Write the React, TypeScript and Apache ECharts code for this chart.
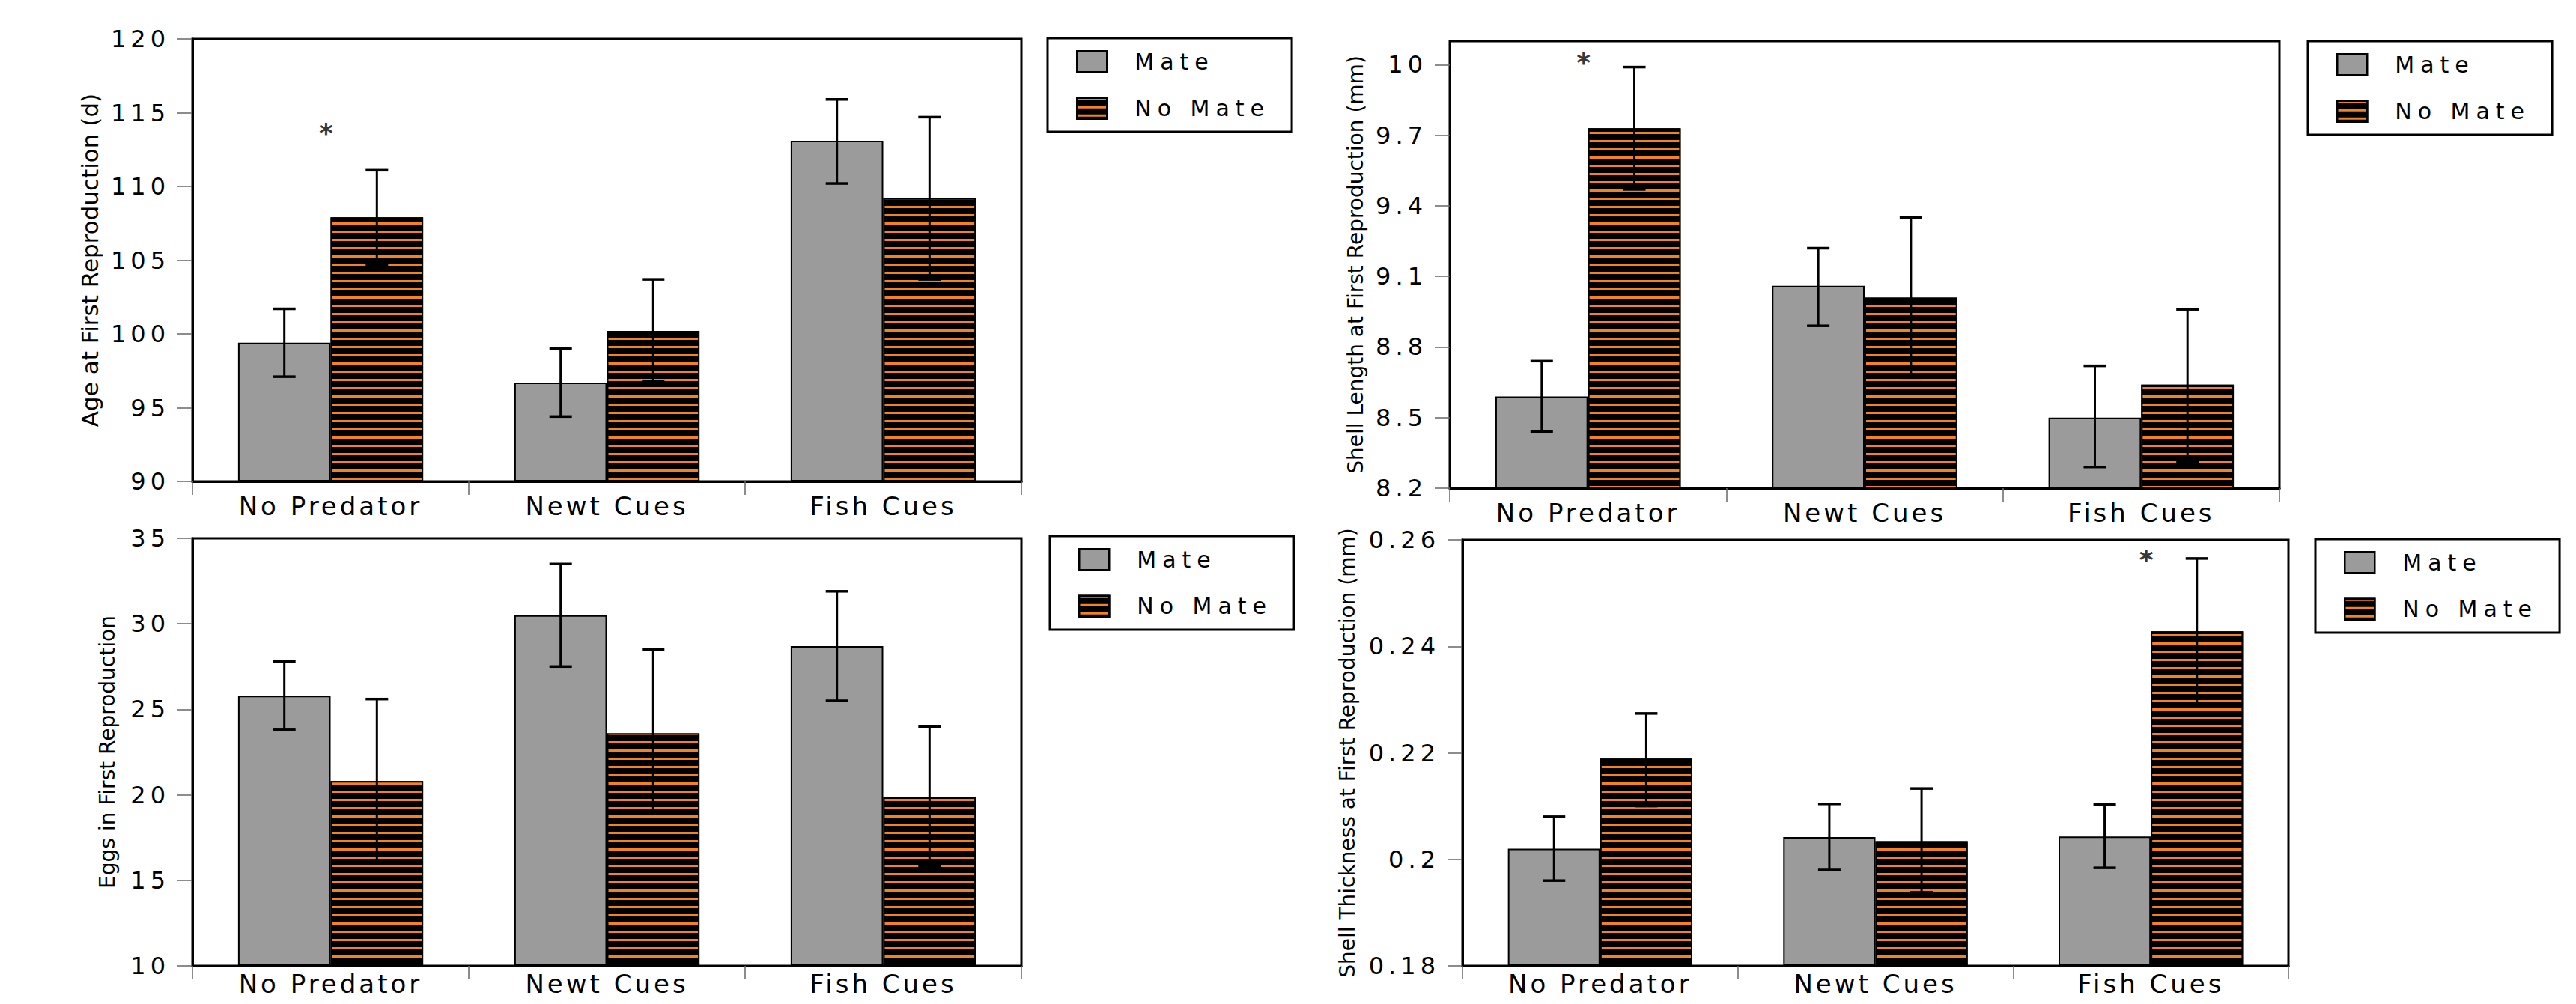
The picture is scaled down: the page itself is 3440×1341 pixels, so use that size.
import React, { useEffect, useRef } from 'react';
import * as echarts from 'echarts';

// ---------- data ----------
const categories = ['No Predator', 'Newt Cues', 'Fish Cues'];
const groupNames = ['Mate', 'No Mate'];

// Age at first reproduction (d)
const ageMate = [99.4, 96.7, 113.1];
const ageMateLow = [97.1, 94.4, 110.2];
const ageMateHigh = [101.7, 99.0, 115.9];
const ageNoMate = [107.9, 100.2, 109.2];
const ageNoMateLow = [104.7, 96.8, 103.7];
const ageNoMateHigh = [111.1, 103.7, 114.7];
const ageStar: (number | null)[] = [114.0, null, null];
const ageTicks = [90, 95, 100, 105, 110, 115, 120];
const ageRange = [90, 120];

// Shell length at first reproduction (mm)
const lenMate = [8.59, 9.06, 8.5];
const lenMateLow = [8.44, 8.89, 8.29];
const lenMateHigh = [8.74, 9.22, 8.72];
const lenNoMate = [9.73, 9.01, 8.64];
const lenNoMateLow = [9.47, 8.67, 8.31];
const lenNoMateHigh = [9.99, 9.35, 8.96];
const lenStar: (number | null)[] = [10.03, null, null];
const lenTicks = [8.2, 8.5, 8.8, 9.1, 9.4, 9.7, 10];
const lenRange = [8.2, 10.1];

// Eggs in first reproduction
const eggMate = [25.8, 30.5, 28.7];
const eggMateLow = [23.8, 27.5, 25.5];
const eggMateHigh = [27.8, 33.5, 31.9];
const eggNoMate = [20.8, 23.6, 19.9];
const eggNoMateLow = [16.1, 18.9, 15.8];
const eggNoMateHigh = [25.6, 28.5, 24.0];
const eggStar: (number | null)[] = [null, null, null];
const eggTicks = [10, 15, 20, 25, 30, 35];
const eggRange = [10, 35];

// Shell thickness at first reproduction (mm)
const thkMate = [0.202, 0.2042, 0.2043];
const thkMateLow = [0.196, 0.198, 0.1984];
const thkMateHigh = [0.208, 0.2104, 0.2103];
const thkNoMate = [0.2189, 0.2034, 0.2428];
const thkNoMateLow = [0.21, 0.1938, 0.2293];
const thkNoMateHigh = [0.2274, 0.2133, 0.2565];
const thkStar: (number | null)[] = [null, null, 0.2573];
const thkTicks = [0.18, 0.2, 0.22, 0.24, 0.26];
const thkRange = [0.18, 0.26];

// ---------- styles ----------
const FONT = "'DejaVu Sans', sans-serif";
const MATE_COLOR = '#9b9b9b';
const STRIPE_COLOR = '#f5821f';
const TICK_COLOR = '#666';
// extra letter spacing per font size (the reference text is widely spaced)
const SPACING: Record<number, number> = { 32: 6, 34: 4, 30: 8 };

type Panel = {
  grid: { left: number; top: number; width: number; height: number };
  legend: { left: number; top: number };
  name: string;
  nameGap: number;
  nameSize: number;
  labelMargin: number;
  ticks: number[];
  range: number[];
  mate: number[];
  mateLow: number[];
  mateHigh: number[];
  noMate: number[];
  noMateLow: number[];
  noMateHigh: number[];
  star: (number | null)[];
};

const panels: Panel[] = [
  {
    grid: { left: 257, top: 52, width: 1107, height: 591 },
    legend: { left: 1399, top: 51 },
    name: 'Age at First Reproduction (d)',
    nameGap: 122,
    nameSize: 31,
    labelMargin: 16,
    ticks: ageTicks,
    range: ageRange,
    mate: ageMate, mateLow: ageMateLow, mateHigh: ageMateHigh,
    noMate: ageNoMate, noMateLow: ageNoMateLow, noMateHigh: ageNoMateHigh,
    star: ageStar,
  },
  {
    grid: { left: 1936, top: 55, width: 1108, height: 597 },
    legend: { left: 3082, top: 55 },
    name: 'Shell Length at First Reproduction (mm)',
    nameGap: 112,
    nameSize: 28,
    labelMargin: 16,
    ticks: lenTicks,
    range: lenRange,
    mate: lenMate, mateLow: lenMateLow, mateHigh: lenMateHigh,
    noMate: lenNoMate, noMateLow: lenNoMateLow, noMateHigh: lenNoMateHigh,
    star: lenStar,
  },
  {
    grid: { left: 257, top: 719, width: 1107, height: 571 },
    legend: { left: 1402, top: 716 },
    name: 'Eggs in First Reproduction',
    nameGap: 100,
    nameSize: 28,
    labelMargin: 7,
    ticks: eggTicks,
    range: eggRange,
    mate: eggMate, mateLow: eggMateLow, mateHigh: eggMateHigh,
    noMate: eggNoMate, noMateLow: eggNoMateLow, noMateHigh: eggNoMateHigh,
    star: eggStar,
  },
  {
    grid: { left: 1953, top: 721, width: 1103, height: 569 },
    legend: { left: 3092, top: 720 },
    name: 'Shell Thickness at First Reproduction (mm)',
    nameGap: 140,
    nameSize: 28,
    labelMargin: 7,
    ticks: thkTicks,
    range: thkRange,
    mate: thkMate, mateLow: thkMateLow, mateHigh: thkMateHigh,
    noMate: thkNoMate, noMateLow: thkNoMateLow, noMateHigh: thkNoMateHigh,
    star: thkStar,
  },
];

const CAT_GAP = 0.33;

function errorRenderItem(params: any, api: any) {
  const cat = api.value(0);
  const side = api.value(1);
  const lo = api.coord([cat, api.value(2)]);
  const hi = api.coord([cat, api.value(3)]);
  const band = api.size([1, 0])[0];
  const bw = (band * (1 - CAT_GAP)) / 2;
  const x = lo[0] + (side === 0 ? -bw / 2 : bw / 2);
  const cap = 15;
  const vStyle = { stroke: '#000', lineWidth: 3 };
  const cStyle = { stroke: '#000', lineWidth: 3.5 };
  return {
    type: 'group',
    children: [
      { type: 'line', shape: { x1: x, y1: hi[1], x2: x, y2: lo[1] }, style: vStyle },
      { type: 'line', shape: { x1: x - cap, y1: hi[1], x2: x + cap, y2: hi[1] }, style: cStyle },
      { type: 'line', shape: { x1: x - cap, y1: lo[1], x2: x + cap, y2: lo[1] }, style: cStyle },
    ],
  };
}

function buildOption() {
  const grid: any[] = [];
  const xAxis: any[] = [];
  const yAxis: any[] = [];
  const legend: any[] = [];
  const series: any[] = [];

  panels.forEach((p, i) => {
    grid.push({
      ...p.grid,
      show: true,
      borderColor: '#000',
      borderWidth: 3,
      backgroundColor: 'transparent',
      containLabel: false,
    });
    xAxis.push({
      type: 'category',
      gridIndex: i,
      data: categories,
      axisLine: { show: true, lineStyle: { color: '#000', width: 3 } },
      axisTick: { show: true, length: 18, lineStyle: { color: TICK_COLOR, width: 1.5 } },
      axisLabel: { fontSize: 34, fontFamily: FONT, color: '#000', margin: p.labelMargin },
      splitLine: { show: false },
    });
    yAxis.push({
      type: 'value',
      gridIndex: i,
      min: p.range[0],
      max: p.range[1],
      startValue: p.range[0],
      axisLine: { show: true, lineStyle: { color: '#000', width: 3 } },
      axisTick: {
        show: true,
        length: 20,
        customValues: p.ticks,
        lineStyle: { color: TICK_COLOR, width: 1.5 },
      },
      axisLabel: {
        customValues: p.ticks,
        fontSize: 32,
        fontFamily: FONT,
        color: '#000',
        margin: 30,
      },
      splitLine: { show: false },
      name: p.name,
      nameLocation: 'middle',
      nameGap: p.nameGap,
      nameTextStyle: { fontSize: p.nameSize, fontFamily: FONT, color: '#000' },
    });
    legend.push({
      orient: 'vertical',
      left: p.legend.left,
      top: p.legend.top,
      data: groupNames,
      selectedMode: false,
      icon: 'rect',
      itemWidth: 40,
      itemHeight: 28,
      itemGap: 32,
      padding: [16, 85, 16, 38],
      borderColor: '#000',
      borderWidth: 3,
      backgroundColor: '#fff',
      textStyle: {
        fontSize: 30,
        fontFamily: FONT,
        color: '#000',
        lineHeight: 30,
        padding: [0, 0, 0, 32],
      },
      itemStyle: { borderColor: '#000', borderWidth: 2.5 },
    });
    series.push({
      type: 'bar',
      name: groupNames[0],
      xAxisIndex: i,
      yAxisIndex: i,
      data: p.mate,
      barGap: '0%',
      barCategoryGap: CAT_GAP * 100 + '%',
      itemStyle: { color: MATE_COLOR, borderColor: '#000', borderWidth: 2 },
    });
    series.push({
      type: 'bar',
      name: groupNames[1],
      xAxisIndex: i,
      yAxisIndex: i,
      data: p.noMate,
      barGap: '0%',
      barCategoryGap: CAT_GAP * 100 + '%',
      itemStyle: {
        color: '#000',
        borderColor: '#000',
        borderWidth: 2,
        decal: {
          symbol: 'rect',
          symbolSize: 1,
          dashArrayX: [1, 0],
          dashArrayY: [3, 8],
          rotation: 0,
          color: STRIPE_COLOR,
        },
      },
    });
    const errData: number[][] = [];
    for (let c = 0; c < categories.length; c++) {
      errData.push([c, 0, p.mateLow[c], p.mateHigh[c]]);
      errData.push([c, 1, p.noMateLow[c], p.noMateHigh[c]]);
    }
    series.push({
      type: 'custom',
      name: 'err' + i,
      xAxisIndex: i,
      yAxisIndex: i,
      z: 10,
      data: errData,
      encode: { x: 0, y: [2, 3] },
      renderItem: errorRenderItem,
      silent: true,
    });
    const starData: number[][] = [];
    p.star.forEach((v, c) => {
      if (v !== null) starData.push([c, v]);
    });
    series.push({
      type: 'scatter',
      name: 'star' + i,
      xAxisIndex: i,
      yAxisIndex: i,
      z: 11,
      symbolSize: 0,
      data: starData,
      silent: true,
      label: {
        show: true,
        position: 'inside',
        formatter: '*',
        fontSize: 36,
        fontWeight: 'bold',
        fontFamily: FONT,
        color: '#000',
        offset: [-6, 7],
      },
    });
  });

  return { animation: false, backgroundColor: '#fff', grid, xAxis, yAxis, legend, series };
}

export default function App() {
  const ref = useRef<HTMLDivElement>(null);
  useEffect(() => {
    document.body.style.margin = '0';
    const el = ref.current!;
    const chart = echarts.init(el, null, { renderer: 'svg' });
    const applySpacing = () => {
      el.querySelectorAll('text').forEach((t) => {
        const fs = Math.round(parseFloat(getComputedStyle(t).fontSize));
        const sp = SPACING[fs];
        if (sp) t.setAttribute('letter-spacing', sp + 'px');
      });
    };
    chart.on('finished', applySpacing);
    chart.setOption(buildOption());
    applySpacing();
    const timer = setTimeout(applySpacing, 50);
    return () => {
      clearTimeout(timer);
      chart.dispose();
    };
  }, []);
  return <div ref={ref} style={{ width: 3440, height: 1341 }} />;
}
